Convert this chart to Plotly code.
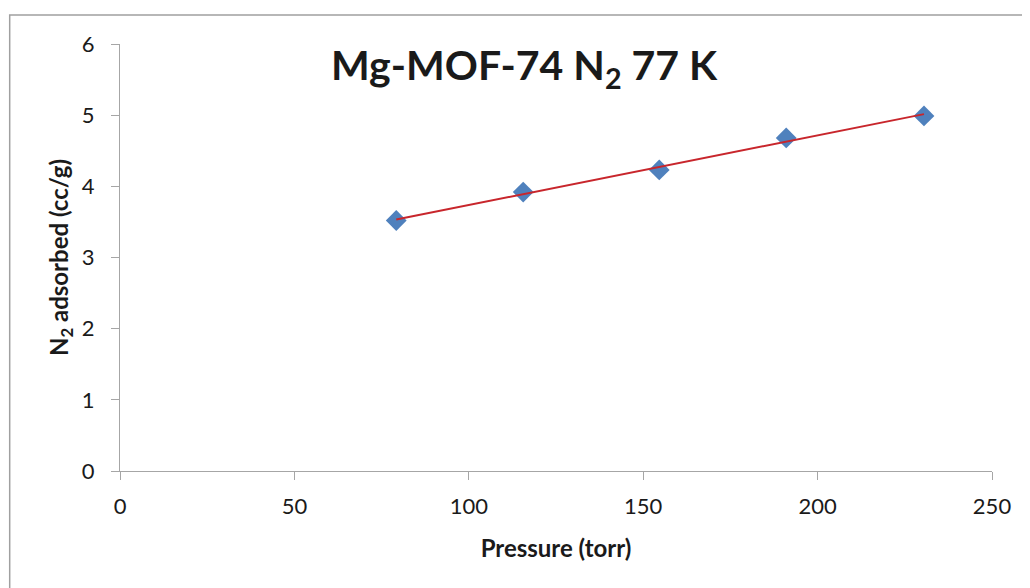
import numpy as np
import plotly.graph_objects as go

# Data
pressure_torr = [79.2, 115.6, 154.6, 191.0, 230.5]
n2_adsorbed = [3.52, 3.92, 4.23, 4.68, 4.99]

x_ticks = [0, 50, 100, 150, 200, 250]
y_ticks = [0, 1, 2, 3, 4, 5, 6]

title_text = "Mg-MOF-74 N<sub>2</sub> 77 K"
x_title = "Pressure (torr)"
y_title = "N<sub>2</sub> adsorbed (cc/g)"

# Linear trendline fitted to the data
slope, intercept = np.polyfit(pressure_torr, n2_adsorbed, 1)
trend_x = [min(pressure_torr), max(pressure_torr)]
trend_y = [slope * v + intercept for v in trend_x]

FONT = "Lato"
AXIS_GRAY = "#a6a6a6"
TEXT = "#1a1a1a"

fig = go.Figure()
fig.add_trace(go.Scatter(
    x=pressure_torr, y=n2_adsorbed, mode="markers",
    marker=dict(symbol="diamond", size=16, color="#4f81bd",
                line=dict(width=0)),
    showlegend=False, hoverinfo="x+y"))
fig.add_trace(go.Scatter(
    x=trend_x, y=trend_y, mode="lines",
    line=dict(color="#c8262c", width=2),
    showlegend=False, hoverinfo="skip"))

axis_common = dict(
    showgrid=False, zeroline=False, showline=True, automargin=False,
    linecolor=AXIS_GRAY, linewidth=1.3,
    ticks="outside", ticklen=8, tickwidth=1.3, tickcolor=AXIS_GRAY,
    tickfont=dict(family=FONT, size=22, color=TEXT),
)

fig.update_layout(
    width=1030, height=588,
    margin=dict(l=112, r=46, t=36, b=125),
    paper_bgcolor="white", plot_bgcolor="white",
    font=dict(family=FONT, color=TEXT),
    xaxis=dict(range=[0, 250], tickmode="array", tickvals=x_ticks,
               ticklabelstandoff=7,
               title=dict(text=x_title, font=dict(family=FONT, size=24, color=TEXT, weight="bold"),
                          standoff=22),
               **axis_common),
    yaxis=dict(range=[0, 6], tickmode="array", tickvals=y_ticks,
               ticklabelstandoff=12,
               title=dict(text=y_title, font=dict(family=FONT, size=24, color=TEXT, weight="bold"),
                          standoff=6),
               **axis_common),
    annotations=[dict(
        text="<b>" + title_text + "</b>", xref="paper", yref="paper",
        x=0.464, y=0.945, xanchor="center", yanchor="middle", showarrow=False,
        font=dict(family=FONT, size=41, color=TEXT))],
    shapes=[dict(type="rect", xref="paper", yref="paper",
                 x0=-0.1265, x1=1.2, y0=-0.4, y1=1.068,
                 line=dict(color="#a0a0a0", width=1.5), layer="below")],
)

fig.write_html("out.html")
